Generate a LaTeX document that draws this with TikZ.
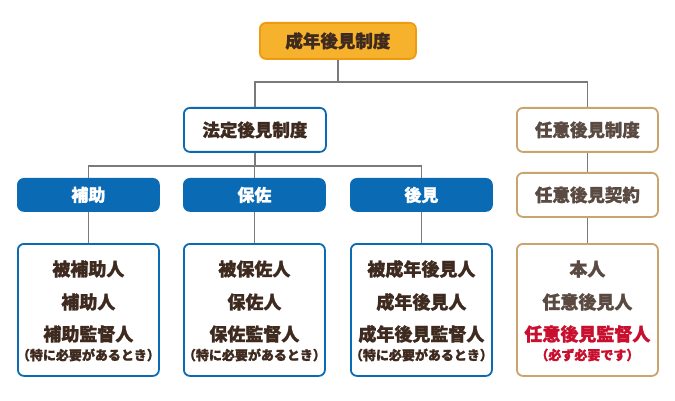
\documentclass[tikz,border=0pt]{standalone}
\usepackage{fontspec}
\setmainfont{Noto Sans CJK JP}[BoldFeatures={FakeBold=1.2}]
\usetikzlibrary{calc}
\definecolor{txt}{HTML}{3E2A1E}
\definecolor{txtb}{HTML}{5A4A42}
\definecolor{orangef}{HTML}{F6B12D}
\definecolor{oranged}{HTML}{EE9B12}
\definecolor{blueb}{HTML}{0A6AB4}
\definecolor{tan}{HTML}{C9A46E}
\definecolor{redt}{HTML}{C8102E}
\definecolor{conn}{HTML}{7A7A7A}
\tikzset{
  box/.style={rounded corners=6pt, line width=1.8pt, inner sep=0pt, anchor=north west},
  wbox/.style={box, draw=blueb, fill=white},
  bbox/.style={box, draw=blueb, fill=blueb, text=white, font=\bfseries\fontsize{17}{20}\selectfont},
  tbox/.style={box, draw=tan, fill=white, text=txtb, font=\bfseries\fontsize{17.5}{20}\selectfont},
  big/.style={font=\bfseries\fontsize{18}{20}\selectfont, text=txt, inner sep=0pt},
  small/.style={font=\bfseries\fontsize{13}{15}\selectfont, text=txt, inner sep=0pt},
  conn/.style={draw=conn, line width=1.4pt},
}
\begin{document}
\begin{tikzpicture}[x=1pt,y=-1pt]
\useasboundingbox (0,0) rectangle (675,401);
% top
\node[box, draw=oranged, fill=orangef, minimum width=156pt, minimum height=36pt, text=txt, font=\bfseries\fontsize{17.5}{20}\selectfont] (top) at (259,22) {成年後見制度};
% second row
\node[wbox, minimum width=142pt, minimum height=44pt, text=txt, font=\bfseries\fontsize{17.5}{20}\selectfont] (houtei) at (183,107) {法定後見制度};
\node[tbox, minimum width=141pt, minimum height=44pt] (nini) at (516,107) {任意後見制度};
\node[tbox, minimum width=141pt, minimum height=44pt] (keiyaku) at (516,172) {任意後見契約};
% blue row
\node[bbox, minimum width=141pt, minimum height=32pt] (hojo) at (17,178) {補助};
\node[bbox, minimum width=141pt, minimum height=32pt] (hosa) at (183,178) {保佐};
\node[bbox, minimum width=141pt, minimum height=32pt] (kouken) at (350,178) {後見};
% bottom boxes
\node[wbox, minimum width=141pt, minimum height=132pt] (b1) at (17,243) {};
\node[wbox, minimum width=141pt, minimum height=132pt] (b2) at (183,243) {};
\node[wbox, minimum width=141pt, minimum height=132pt] (b3) at (350,243) {};
\node[box, draw=tan, fill=white, minimum width=141pt, minimum height=132pt] (b4) at (516,243) {};
% texts b1
\node[big] (t11) at (b1.north |- 0,269) {被補助人};
\node[big] (t12) at (b1.north |- 0,302) {補助人};
\node[big] (t13) at (b1.north |- 0,334) {補助監督人};
\node[small] (t14) at (b1.north |- 0,355) {（特に必要があるとき）};
% texts b2
\node[big] (t21) at (b2.north |- 0,269) {被保佐人};
\node[big] (t22) at (b2.north |- 0,302) {保佐人};
\node[big] (t23) at (b2.north |- 0,334) {保佐監督人};
\node[small] (t24) at (b2.north |- 0,355) {（特に必要があるとき）};
% texts b3
\node[big] (t31) at (b3.north |- 0,269) {被成年後見人};
\node[big] (t32) at (b3.north |- 0,302) {成年後見人};
\node[big] (t33) at (b3.north |- 0,334) {成年後見監督人};
\node[small] (t34) at (b3.north |- 0,355) {（特に必要があるとき）};
% texts b4
\node[big, text=txtb] (t41) at (b4.north |- 0,269) {本人};
\node[big, text=txtb] (t42) at (b4.north |- 0,302) {任意後見人};
\node[big, text=redt] (t43) at (b4.north |- 0,334) {任意後見監督人};
\node[small, text=redt] (t44) at (b4.north |- 0,355) {（必ず必要です）};
% connectors
\draw[conn] (top.south) -- (top.south |- 0,82);
\draw[conn] (houtei.north) -- (houtei.north |- 0,82) -| (nini.north);
\draw[conn] (houtei.south) -- (houtei.south |- 0,166);
\draw[conn] (hojo.north) -- (hojo.north |- 0,166) -| (kouken.north);
\draw[conn] (hosa.north) -- (hosa.north |- 0,166);
\draw[conn] (nini.south) -- (keiyaku.north);
\draw[conn] (keiyaku.south) -- (b4.north);
\draw[conn] (hojo.south) -- (b1.north);
\draw[conn] (hosa.south) -- (b2.north);
\draw[conn] (kouken.south) -- (b3.north);
\end{tikzpicture}
\end{document}
